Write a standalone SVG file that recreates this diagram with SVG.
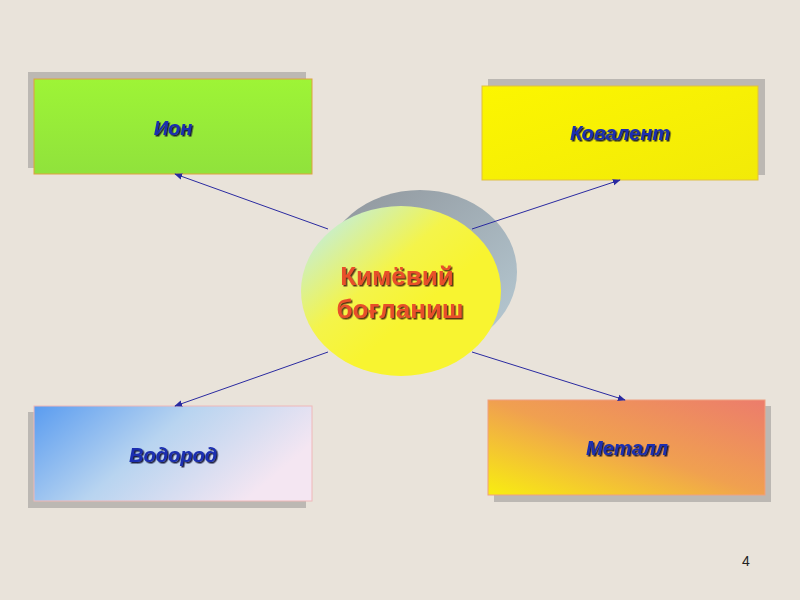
<svg xmlns="http://www.w3.org/2000/svg" width="800" height="600" viewBox="0 0 800 600">
<defs>
<style>
.lbl{font-family:"Liberation Sans",Arial,sans-serif;font-weight:bold;font-style:italic;font-size:20px;fill:#1a2fb0;text-anchor:middle;filter:url(#ts)}
.ctr{font-family:"Liberation Sans",Arial,sans-serif;font-weight:bold;font-size:26px;fill:#e8502a;text-anchor:middle;filter:url(#ts2)}
.shd{fill:#b4b0ac;opacity:0.85}
.con{stroke:#2a2aa0;stroke-width:1;fill:none;marker-end:url(#ah)}
</style>
<filter id="ts" x="-10%" y="-30%" width="130%" height="160%">
<feDropShadow dx="1.5" dy="1.5" stdDeviation="0.4" flood-color="#101030" flood-opacity="0.9"/>
</filter>
<filter id="ts2" x="-10%" y="-30%" width="130%" height="160%">
<feDropShadow dx="1.5" dy="1.5" stdDeviation="0.4" flood-color="#4a2010" flood-opacity="0.9"/>
</filter>
<marker id="ah" viewBox="0 0 10 10" refX="9" refY="5" markerWidth="8" markerHeight="8" orient="auto" markerUnits="userSpaceOnUse">
<path d="M0,1 L10,5 L0,9 z" fill="#2a2aa0"/>
</marker>
<linearGradient id="gIon" x1="0" y1="0" x2="0" y2="1">
<stop offset="0" stop-color="#9ef436"/><stop offset="1" stop-color="#90e23c"/>
</linearGradient>
<linearGradient id="gKov" x1="0" y1="0" x2="1" y2="1">
<stop offset="0" stop-color="#fcf600"/><stop offset="1" stop-color="#f2ea08"/>
</linearGradient>
<linearGradient id="gVod" x1="0" y1="0" x2="1" y2="0.4">
<stop offset="0" stop-color="#5a9cf0"/><stop offset="0.5" stop-color="#b8d4f0"/><stop offset="1" stop-color="#f4e6f2"/>
</linearGradient>
<linearGradient id="gMet" x1="0" y1="1" x2="1" y2="0">
<stop offset="0" stop-color="#f8ee10"/><stop offset="0.5" stop-color="#f0a050"/><stop offset="1" stop-color="#ec7c6c"/>
</linearGradient>
<linearGradient id="gCir" x1="0.1" y1="0.1" x2="0.6" y2="0.6">
<stop offset="0" stop-color="#c4eed8"/><stop offset="0.6" stop-color="#f4f44a"/><stop offset="1" stop-color="#f8f430"/>
</linearGradient>
<linearGradient id="gCsh" x1="0" y1="0" x2="1" y2="1">
<stop offset="0" stop-color="#8e949a"/><stop offset="1" stop-color="#b8ccd6"/>
</linearGradient>
</defs>
<rect width="800" height="600" fill="#e9e3da"/>

<g id="node-ion">
<rect class="shd" x="28" y="72" width="278" height="96"/>
<rect x="34" y="79" width="278" height="95" fill="url(#gIon)" stroke="#e0a040" stroke-width="1"/>
<text class="lbl" x="173" y="135">Ион</text>
</g>

<g id="node-kovalent">
<rect class="shd" x="488" y="79" width="277" height="96"/>
<rect x="482" y="86" width="276" height="94" fill="url(#gKov)" stroke="#e0c040" stroke-width="1"/>
<text class="lbl" x="620" y="140">Ковалент</text>
</g>

<g id="node-vodorod">
<rect class="shd" x="28" y="412" width="278" height="96"/>
<rect x="34" y="406" width="278" height="95" fill="url(#gVod)" stroke="#f0b8b8" stroke-width="1"/>
<text class="lbl" x="173" y="462">Водород</text>
</g>

<g id="node-metall">
<rect class="shd" x="494" y="406" width="277" height="96"/>
<rect x="488" y="400" width="277" height="95" fill="url(#gMet)" stroke="#f0a080" stroke-width="1"/>
<text class="lbl" x="627" y="455">Металл</text>
</g>

<g id="node-center">
<ellipse cx="420" cy="272" rx="97" ry="82" fill="url(#gCsh)"/>
<ellipse cx="401" cy="291" rx="100" ry="85" fill="url(#gCir)"/>
<text class="ctr" x="397" y="285">Кимёвий</text>
<text class="ctr" x="400" y="318">боғланиш</text>
</g>

<g id="connectors">
<line class="con" x1="328" y1="229" x2="175" y2="174"/>
<line class="con" x1="472" y1="229" x2="620" y2="180"/>
<line class="con" x1="328" y1="352" x2="175" y2="406"/>
<line class="con" x1="472" y1="352" x2="625" y2="400"/>
</g>

<text x="746" y="566" font-family="Liberation Sans,Arial,sans-serif" font-size="14" fill="#222" text-anchor="middle">4</text>
</svg>
